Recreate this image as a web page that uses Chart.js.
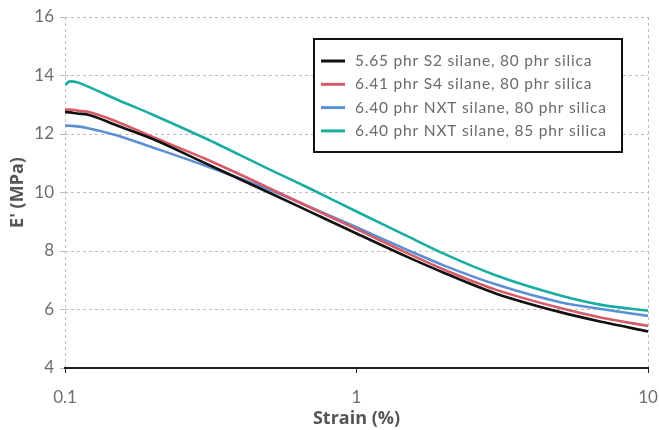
<!DOCTYPE html>
<html>
<head>
<meta charset="utf-8">
<script src="https://cdn.jsdelivr.net/npm/chart.js@4"></script>
<style>
  html, body { margin: 0; padding: 0; background: #fff; }
  #wrap { width: 659px; height: 430px; }
</style>
</head>
<body>
<div id="wrap"><canvas id="chart"></canvas></div>
<script>
// strain sweep, E' vs strain (%), log x axis

const strain = [0.1, 0.104, 0.11, 0.12, 0.15, 0.2, 0.3, 0.5, 0.7, 1, 1.5, 2, 3, 5, 7, 10];

const s2_80 = [12.75, 12.74, 12.70, 12.66, 12.30, 11.83, 11.02, 10.00, 9.32, 8.60, 7.79, 7.25, 6.55, 5.91, 5.57, 5.25];
const s4_80 = [12.83, 12.84, 12.80, 12.76, 12.43, 11.90, 11.17, 10.16, 9.47, 8.75, 7.92, 7.36, 6.68, 6.05, 5.71, 5.44];
const nxt_80 = [12.29, 12.28, 12.26, 12.20, 11.96, 11.54, 10.93, 10.10, 9.48, 8.81, 8.03, 7.50, 6.86, 6.25, 6.01, 5.78];
const nxt_85 = [13.68, 13.80, 13.77, 13.62, 13.19, 12.66, 11.87, 10.80, 10.11, 9.35, 8.50, 7.90, 7.17, 6.48, 6.15, 5.96];

const seriesLabels = [
  "5.65 phr S2 silane, 80 phr silica",
  "6.41 phr S4 silane, 80 phr silica",
  "6.40 phr NXT silane, 80 phr silica",
  "6.40 phr NXT silane, 85 phr silica",
];
const seriesColors = ["#111111", "#d65a68", "#5b90d4", "#19ada1"];

const xTicks = [0.1, 1, 10];
const yTicks = [4, 6, 8, 10, 12, 14, 16];

const FONT = "Lato, 'Noto Sans', sans-serif";
const TITLE_FONT = "'Open Sans', 'Noto Sans', sans-serif";

function points(ys) {
  return ys.map((y, i) => ({ x: strain[i], y: y }));
}

// legend box drawn inside the plot, top right
const boxLegend = {
  id: "boxLegend",
  afterDatasetsDraw(chart) {
    const c = chart.ctx;
    const area = chart.chartArea;
    const w = 308, h = 113;
    const x0 = area.right - 26 - w;
    const y0 = area.top + 22;
    c.save();
    c.fillStyle = "#fff";
    c.fillRect(x0, y0, w, h);
    c.lineWidth = 2;
    c.strokeStyle = "#111";
    c.strokeRect(x0, y0, w, h);
    c.font = "15.5px " + FONT;
    if ("letterSpacing" in c) c.letterSpacing = "0.8px";
    c.textBaseline = "middle";
    chart.data.datasets.forEach((ds, i) => {
      const y = y0 + 22 + i * 23.3;
      c.strokeStyle = ds.borderColor;
      c.lineWidth = 3;
      c.beginPath();
      c.moveTo(x0 + 7, y);
      c.lineTo(x0 + 31, y);
      c.stroke();
      c.fillStyle = "#6a6a6a";
      c.fillText(ds.label, x0 + 41, y);
    });
    c.restore();
  },
};

const ctx = document.getElementById("chart");

new Chart(ctx, {
  type: "line",
  data: {
    datasets: [s2_80, s4_80, nxt_80, nxt_85].map((ys, i) => ({
      label: seriesLabels[i],
      data: points(ys),
      borderColor: seriesColors[i],
      borderWidth: 2.6,
      pointRadius: 0,
      fill: false,
      cubicInterpolationMode: "monotone",
    })),
  },
  options: {
    responsive: true,
    maintainAspectRatio: false,
    animation: false,
    layout: { padding: { top: 17, right: 0, left: 0, bottom: 0 } },
    plugins: {
      legend: { display: false },
      tooltip: { enabled: false },
    },
    scales: {
      x: {
        type: "logarithmic",
        min: 0.1,
        max: 10,
        afterBuildTicks: (scale) => {
          scale.ticks = xTicks.map((v) => ({ value: v }));
        },
        afterFit: (scale) => {
          scale.height = 62;
          // keep the "10" label hugging the right edge like the original
          scale.paddingRight = 11;
        },
        ticks: {
          color: "#6e6e6e",
          font: { family: FONT, size: 17 },
          padding: 14,
          maxRotation: 0,
          autoSkip: false,
          callback: (v) => String(v),
        },
        grid: {
          color: (c) => (c.tick && c.tick.value === 1 ? "rgba(0,0,0,0)" : "#bdbdbd"),
          lineWidth: 1,
          tickColor: "#222",
          tickLength: 5,
        },
        border: { display: true, color: "#222", width: 2, dash: [3, 3] },
        title: {
          display: true,
          text: "Strain (%)",
          color: "#555",
          font: { family: TITLE_FONT, size: 18, weight: "bold" },
          padding: { top: 0, bottom: 0 },
        },
      },
      y: {
        min: 4,
        max: 16,
        afterBuildTicks: (scale) => {
          scale.ticks = yTicks.map((v) => ({ value: v }));
        },
        afterFit: (scale) => {
          scale.width = 65;
        },
        ticks: {
          color: "#6e6e6e",
          font: { family: FONT, size: 17 },
          padding: 6,
        },
        grid: {
          color: "#bdbdbd",
          lineWidth: 1,
          tickColor: "#bdbdbd",
          tickLength: 5,
        },
        border: { display: false, dash: [3, 3] },
        title: {
          display: true,
          text: "E' (MPa)",
          color: "#555",
          font: { family: TITLE_FONT, size: 18, weight: "bold" },
          padding: { top: 7, bottom: 0 },
        },
      },
    },
  },
  plugins: [boxLegend],
});
</script>
</body>
</html>
